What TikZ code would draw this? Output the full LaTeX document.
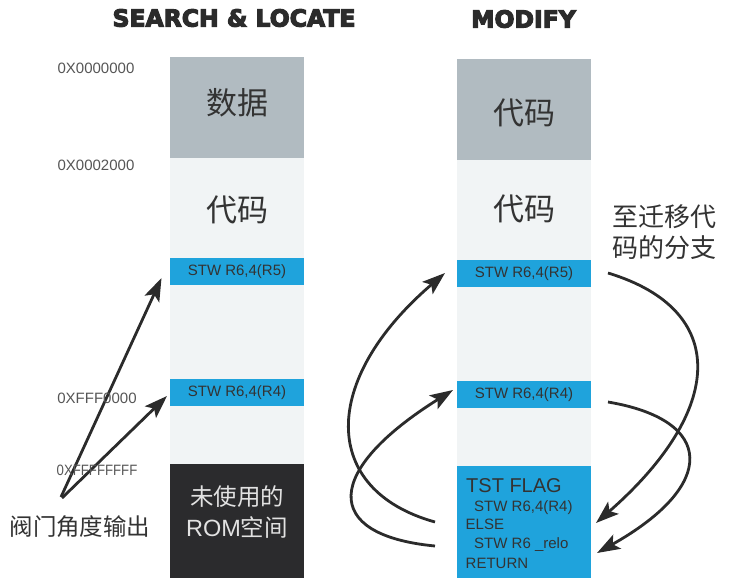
\documentclass[tikz,border=0pt]{standalone}
\usepackage{fontspec}
\setmainfont{Liberation Sans}
\newfontfamily\cjk{Noto Sans CJK SC}
\newfontfamily\headfont{DejaVu Sans}
\usetikzlibrary{arrows.meta,calc}
\definecolor{grayblk}{HTML}{B1BBC1}
\definecolor{lightblk}{HTML}{F1F4F5}
\definecolor{blueblk}{HTML}{1FA3DC}
\definecolor{darkblk}{HTML}{2B2B2D}
\definecolor{txt}{HTML}{333333}
\definecolor{addrc}{HTML}{555555}
\definecolor{romtxt}{HTML}{E2E2E2}
\definecolor{arrowc}{HTML}{2B2B2B}
\newcommand\heavytxt[1]{\special{pdf:literal direct 2 Tr 1.1 w}#1\special{pdf:literal direct 0 Tr}}
\tikzset{
  blk/.style={anchor=north west, inner sep=0pt, outer sep=0pt, minimum width=134pt},
  band/.style={blk, fill=blueblk, minimum height=27pt, text=txt, font=\fontsize{15}{18}\selectfont},
  cjktext/.style={text=txt, inner sep=0pt, font=\cjk\fontsize{31}{36}\selectfont},
  addr/.style={text=addrc, inner sep=0pt, font=\fontsize{15}{18}\selectfont},
  code/.style={anchor=base west, inner sep=0pt, text=txt, font=\fontsize{15}{18}\selectfont},
  head/.style={text=arrowc, inner sep=0pt, font=\headfont\bfseries\fontsize{23.5}{28}\selectfont},
  arr/.style={draw=arrowc, line width=2.8pt, -{Stealth[length=23pt,width=16pt,inset=5pt]}}
}
\begin{document}
\begin{tikzpicture}[x=1pt,y=-1pt]
\useasboundingbox (0,0) rectangle (732,579);
% headers
\node[head] (h1) at (234,18) {\heavytxt{SEARCH \& LOCATE}};
\node[head] (h2) at (523.5,19) {\heavytxt{MODIFY}};
% left column
\node[blk, fill=grayblk, minimum height=101pt] (ldata) at (170,57) {};
\node[blk, fill=lightblk, minimum height=306pt] (lcode) at (170,158) {};
\node[band] (lr5) at (170,258) {STW R6,4(R5)};
\node[band] (lr4) at (170,379) {STW R6,4(R4)};
\node[blk, fill=darkblk, minimum height=114pt] (lrom) at (170,464) {};
\node[cjktext] (tdata) at (237,103) {数据};
\node[cjktext] (tlcode) at (237,210) {代码};
\node[text=romtxt, inner sep=0pt, font=\cjk\fontsize{23.5}{28}\selectfont] (trom1) at (237,497) {未使用的};
\node[text=romtxt, inner sep=0pt, font=\fontsize{23.5}{28}\selectfont] (trom2) at (237,527) {ROM{\cjk 空间}};
% right column
\node[blk, fill=grayblk, minimum height=101pt] (rtop) at (457,59) {};
\node[blk, fill=lightblk, minimum height=306pt] (rcode) at (457,160) {};
\node[band] (rr5) at (457,260) {STW R6,4(R5)};
\node[band] (rr4) at (457,381) {STW R6,4(R4)};
\node[blk, fill=blueblk, minimum height=112pt] (rblue) at (457,466) {};
\node[cjktext] (trtop) at (524,113) {代码};
\node[cjktext] (trcode) at (524,209) {代码};
\node[code, font=\fontsize{20}{24}\selectfont] (c1) at (466,492) {TST FLAG};
\node[code] (c2) at (474,511.5) {STW R6,4(R4)};
\node[code] (c3) at (465.5,529.5) {ELSE};
\node[code] (c4) at (474,548.5) {STW R6 \_relo};
\node[code] (c5) at (465.5,568.5) {RETURN};
\node[text=txt, inner sep=0pt, align=center, font=\cjk\fontsize{26}{31}\selectfont] (branch) at (664,232) {至迁移代\\码的分支};
% left arrows
\node[text=txt, inner sep=0pt, font=\cjk\fontsize{23.5}{28}\selectfont] (valve) at (80,527) {阀门角度输出};
\coordinate (va) at (61,497);
\coordinate (vb) at (62,498);
\coordinate (t5) at (161.5,278);
\coordinate (t4) at (167,396);
\draw[arr] (va) -- (t5);
\draw[arr] (vb) -- (t4);
% right arrows
\coordinate (a1s) at (435,522); \coordinate (a1e) at (445,273);
\coordinate (a2s) at (435,546); \coordinate (a2e) at (453,390);
\coordinate (a3s) at (608,273); \coordinate (a3e) at (596,523);
\coordinate (a4s) at (608,402); \coordinate (a4e) at (597,553);
\draw[arr] (a1s) .. controls (320,490) and (320,380) .. (a1e);
\draw[arr] (a2s) .. controls (320,535) and (325,470) .. (a2e);
\draw[arr] (a3s) .. controls (730,310) and (725,410) .. (a3e);
\draw[arr] (a4s) .. controls (715,420) and (718,485) .. (a4e);
% addresses
\node[addr] (ad1) at (96,68) {0X0000000};
\node[addr] (ad2) at (96,165) {0X0002000};
\node[addr] (ad3) at (97,398) {0XFFF0000};
\node[addr] (ad4) at (97,470) {\scalebox{0.88}[1]{0XFFFFFFFF}};
\end{tikzpicture}
\end{document}
